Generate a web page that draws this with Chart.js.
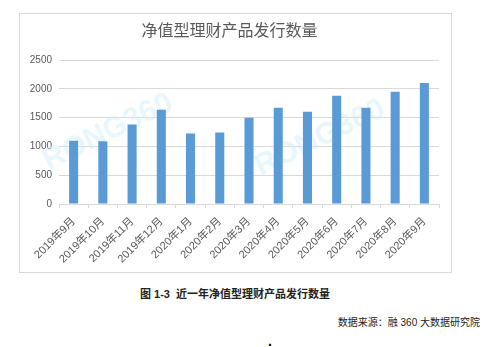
<!DOCTYPE html>
<html>
<head>
<meta charset="utf-8">
<script src="https://cdn.jsdelivr.net/npm/chart.js@4"></script>
<style>
  body { margin: 0; background: #fff; width: 500px; height: 347px; position: relative; overflow: hidden;
         font-family: "Liberation Sans", "Noto Sans CJK SC", sans-serif; }
  #box { position: absolute; left: 19px; top: 13px; width: 431px; height: 258px; border: 1px solid #d9d9d9; }
  #caption { position: absolute; left: 0; width: 470px; top: 285px; text-align: center;
             font-size: 11px; font-weight: bold; color: #222; }
  #source { position: absolute; right: 20px; top: 314px; font-size: 10px; color: #222; }
  #dot { position: absolute; left: 268px; top: 333px; font-size: 14px; font-weight: bold; color: #000; }
</style>
</head>
<body>
<div id="box"><canvas id="barChart" width="431" height="258"></canvas></div>
<div id="caption">图 1-3&nbsp; 近一年净值型理财产品发行数量</div>
<div id="source">数据来源：融 360 大数据研究院</div>
<div id="dot">.</div>
<script>
const months = ['2019年9月', '2019年10月', '2019年11月', '2019年12月', '2020年1月', '2020年2月',
  '2020年3月', '2020年4月', '2020年5月', '2020年6月', '2020年7月', '2020年8月', '2020年9月'];
const issued = [1100, 1090, 1380, 1640, 1225, 1245, 1500, 1675, 1605, 1880, 1675, 1950, 2105];
const yTicks = [0, 500, 1000, 1500, 2000, 2500];

const gray = '#595959';
const font = '"Liberation Sans", "Noto Sans CJK SC", sans-serif';

// faint RONG360 watermark behind the bars
const watermark = {
  id: 'watermark',
  beforeDatasetsDraw(chart) {
    const c = chart.ctx;
    c.save();
    c.fillStyle = 'rgba(205, 238, 250, 0.45)';
    c.font = 'bold 30px ' + font;
    c.textAlign = 'center';
    c.textBaseline = 'middle';
    [[88, 118], [300, 124]].forEach(([x, y]) => {
      c.save();
      c.translate(x, y);
      c.rotate(-0.45);
      c.fillText('RONG360', 0, 0);
      c.restore();
    });
    c.restore();
  }
};

const config = {
  type: 'bar',
  data: {
    labels: months,
    datasets: [{
      data: issued,
      backgroundColor: '#5b9bd5',
      barPercentage: 0.31,
      categoryPercentage: 1
    }]
  },
  options: {
    responsive: false,
    animation: false,
    layout: { padding: { left: 0, right: 12, top: 0, bottom: 0 } },
    plugins: {
      legend: { display: false },
      tooltip: { enabled: false },
      title: {
        display: true,
        text: '净值型理财产品发行数量',
        color: gray,
        font: { family: font, size: 16, weight: 'normal' },
        padding: { top: 8, bottom: 19 }
      }
    },
    scales: {
      x: {
        afterFit(scale) { scale.height = 68; },
        grid: { drawOnChartArea: false, drawTicks: true, tickLength: 4, color: '#d9d9d9' },
        border: { color: '#d9d9d9' },
        ticks: { color: gray, font: { family: font, size: 11 }, minRotation: 45, maxRotation: 45, autoSkip: false, padding: 7 }
      },
      y: {
        min: 0,
        max: 2500,
        afterBuildTicks(scale) { scale.ticks = yTicks.map(v => ({ value: v })); },
        afterFit(scale) { scale.width = 39; },
        grid: { color: '#d9d9d9', drawTicks: false },
        border: { display: false },
        ticks: { color: gray, font: { family: font, size: 10 }, padding: 7, callback: v => String(v) }
      }
    }
  },
  plugins: [watermark]
};

document.addEventListener('DOMContentLoaded', () => {
  const ctx = document.getElementById('barChart').getContext('2d');
  new Chart(ctx, config);
});
</script>
</body>
</html>
